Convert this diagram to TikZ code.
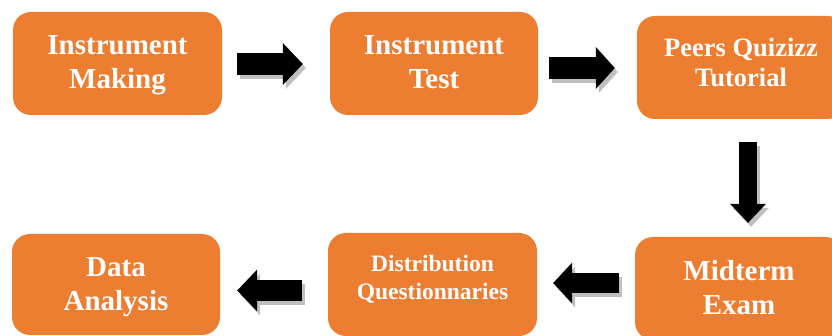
\documentclass[tikz,border=0pt]{standalone}
\usepackage{fontspec}
\setmainfont{Liberation Serif}
\usetikzlibrary{arrows.meta,calc}
\definecolor{boxorange}{HTML}{ED7D31}
\definecolor{arrowshadow}{HTML}{BFBFBF}
\tikzset{
  flowbox/.style={rectangle, rounded corners=18pt, fill=boxorange, draw=none,
    inner sep=0pt},
  flowtext/.style={inner sep=0pt, align=center, text=white, font=\bfseries},
  bigfont/.style={font=\bfseries\fontsize{29}{34}\selectfont},
  blockarrow/.style n args={3}{line width=#1pt,
    -{Triangle[length=#3pt,width=#2pt,line width=0pt]}},
  shadowed/.style={transform canvas={shift={(3pt,-4pt)}}, draw=arrowshadow},
}
\newcommand\flowarrow[5]{%
  \draw[shadowed, blockarrow={#3}{#4}{#5}] #1 -- #2;
  \draw[draw=black, blockarrow={#3}{#4}{#5}] #1 -- #2;
}
\begin{document}
\begin{tikzpicture}[x=1pt,y=-1pt]
\useasboundingbox (0,0) rectangle (832,336);
\clip (0,0) rectangle (832,336);
\node[flowbox, minimum width=209pt, minimum height=103pt] (b1) at (117.5,63.5) {};
\node[flowbox, minimum width=208pt, minimum height=103pt] (b2) at (434,63.5) {};
\node[flowbox, minimum width=208pt, minimum height=103pt] (b3) at (741,67.5) {};
\node[flowbox, minimum width=208pt, minimum height=103pt] (b4) at (739,288.5) {};
\node[flowbox, minimum width=209pt, minimum height=103pt] (b5) at (432.5,284.5) {};
\node[flowbox, minimum width=208pt, minimum height=101pt] (b6) at (116,284.5) {};

\node[flowtext, bigfont] (t1) at ([shift={(0,1.5)}]b1.center) {Instrument\\Making};
\node[flowtext, bigfont] (t2) at ([shift={(0,-1)}]b2.center) {Instrument\\Test};
\node[flowtext, font=\bfseries\fontsize{26.5}{30}\selectfont] (t3) at ([shift={(0,-5)}]b3.center) {Peers Quizizz\\Tutorial};
\node[flowtext, bigfont] (t4) at ([shift={(0,-1)}]b4.center) {Midterm\\Exam};
\node[flowtext, font=\bfseries\fontsize{23.5}{28}\selectfont] (t5) at ([shift={(0,-5)}]b5.center) {Distribution\\Questionnaries};
\node[flowtext, bigfont] (t6) at ([shift={(0,2.5)}]b6.center) {Data\\Analysis};

\flowarrow{([shift={(15,0.5)}]b1.east)}{([shift={(-27,0.5)}]b2.west)}{22}{42}{20}
\flowarrow{([shift={(11,4.5)}]b2.east)}{([shift={(-22,0.5)}]b3.west)}{22}{42}{19}
\flowarrow{([shift={(7,23)}]b3.south)}{([shift={(9,-14)}]b4.north)}{18}{36}{19}
\flowarrow{([shift={(-16,-5.5)}]b4.west)}{([shift={(16,-1.5)}]b5.east)}{20}{41}{19}
\flowarrow{([shift={(-26,6)}]b5.west)}{([shift={(17,6)}]b6.east)}{21}{42}{20}
\end{tikzpicture}
\end{document}
